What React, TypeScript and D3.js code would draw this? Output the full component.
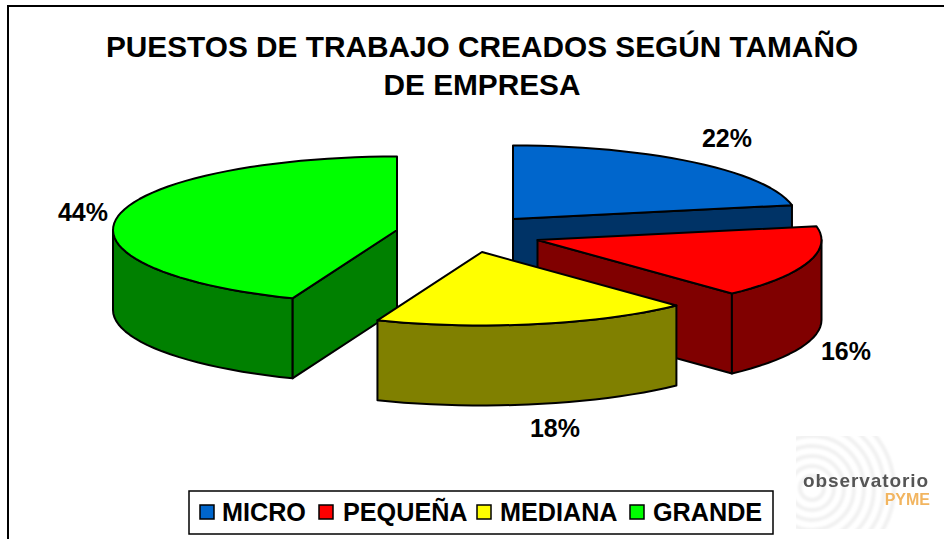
import React from "react";
import * as d3 from "d3";

const categories = ["MICRO", "PEQUEÑA", "MEDIANA", "GRANDE"];
const values = [22, 16, 18, 44];
const labels = ["22%", "16%", "18%", "44%"];
const titleLines = ["PUESTOS DE TRABAJO CREADOS SEGÚN TAMAÑO", "DE EMPRESA"];
const topColors = ["#0066CC", "#FF0000", "#FFFF00", "#00FF00"];
const sideColors = ["#003366", "#800000", "#808000", "#008000"];

const W = 944, H = 539;
const RX = 284, RY = 73.5, DEPTH = 80;
const centers: [number, number][] = [[513, 219], [537.5, 240], [482, 252], [397, 230]];
const labelPos: [number, number][] = [[727, 147], [846, 360], [555, 437], [83, 221]];
const drawOrder = [0, 3, 1, 2];
const legendX = [200, 319, 477, 630];
const legendTextX = [222, 343, 500, 653];

const line = d3.line<[number, number]>().x(d => d[0]).y(d => d[1]);

function arcPts(c: [number, number], a0: number, a1: number, dy = 0): [number, number][] {
  const n = Math.max(2, Math.ceil((a1 - a0) / 0.05));
  return d3.range(n + 1).map(i => {
    const a = a0 + ((a1 - a0) * i) / n;
    return [c[0] + RX * Math.sin(a), c[1] - RY * Math.cos(a) + dy] as [number, number];
  });
}

const TAU = Math.PI * 2;
const clampFront = (a0: number, a1: number): [number, number] | null => {
  const s = Math.max(a0, TAU / 4), e = Math.min(a1, (TAU * 3) / 4);
  return s < e ? [s, e] : null;
};

export default function App() {
  const arcs = d3.pie<number>().sort(null)(values);
  return (
    <svg width={W} height={H} style={{ position: "absolute", left: 0, top: 0, fontFamily: "'Liberation Sans', Arial, sans-serif" }}>
      <defs>
        <filter id="logoBlur"><feGaussianBlur stdDeviation="0.6" /></filter>
        <filter id="logoBlur2"><feGaussianBlur stdDeviation="1.2" /></filter>
        <clipPath id="logoClip"><rect x={796} y={436} width={135} height={93} /></clipPath>
      </defs>
      <rect width={W} height={H} fill="#fff" />
      <rect x={8} y={6} width={W + 20} height={H + 20} fill="none" stroke="#000" strokeWidth={2} />
      {titleLines.map((t, i) => (
        <text key={t} x={482} y={57 + i * 38} textAnchor="middle" fontSize={29.8} fontWeight="bold" fill="#000">{t}</text>
      ))}

      {drawOrder.map(idx => {
        const a = arcs[idx], c = centers[idx];
        const a0 = a.startAngle, a1 = a.endAngle;
        const front = clampFront(a0, a1);
        const endPt = arcPts(c, a1, a1)[0];
        const startPt = arcPts(c, a0, a0)[0];
        const walls: [number, number][][] = [];
        if (idx === 0 || idx === 1) walls.push([c, endPt, [endPt[0], endPt[1] + DEPTH], [c[0], c[1] + DEPTH]]);
        if (idx === 3) walls.push([c, startPt, [startPt[0], startPt[1] + DEPTH], [c[0], c[1] + DEPTH]]);
        if (front && idx !== 0) {
          const t = arcPts(c, front[0], front[1]);
          const b = arcPts(c, front[0], front[1], DEPTH).reverse();
          walls.push([...t, ...b]);
        }
        const top: [number, number][] = [c, ...arcPts(c, a0, a1)];
        return (
          <g key={categories[idx]} stroke="#000" strokeWidth={2} strokeLinejoin="round">
            {walls.map((w, i) => (
              <path key={i} d={line(w) + "Z"} fill={sideColors[idx]} />
            ))}
            <path d={line(top) + "Z"} fill={topColors[idx]} />
          </g>
        );
      })}

      {labels.map((l, i) => (
        <text key={l} x={labelPos[i][0]} y={labelPos[i][1]} textAnchor="middle" fontSize={25} fontWeight="bold" fill="#000">{l}</text>
      ))}

      <g clipPath="url(#logoClip)">
        <g fill="none" stroke="#f1f1f1" strokeWidth={4} filter="url(#logoBlur2)">
          {[12, 22, 32, 42, 52, 62, 72, 82].map(r => (
            <circle key={r} cx={812} cy={488} r={r} />
          ))}
        </g>
        <text x={866} y={487} textAnchor="middle" fontSize={19} fontWeight="bold" fill="#555" letterSpacing={0.9} filter="url(#logoBlur)">observatorio</text>
        <text x={930} y={505} textAnchor="end" fontSize={16} fontWeight="bold" fill="#F2B560" filter="url(#logoBlur)">PYME</text>
      </g>

      <rect x={189} y={491} width={584} height={43} fill="#fff" stroke="#000" strokeWidth={1.5} />
      {categories.map((cat, i) => (
        <g key={cat}>
          <rect x={legendX[i]} y={505} width={14} height={14} fill={topColors[i]} stroke="#000" strokeWidth={1.5} />
          <text x={legendTextX[i]} y={521} fontSize={25.2} fontWeight="bold" fill="#000">{cat}</text>
        </g>
      ))}
    </svg>
  );
}
